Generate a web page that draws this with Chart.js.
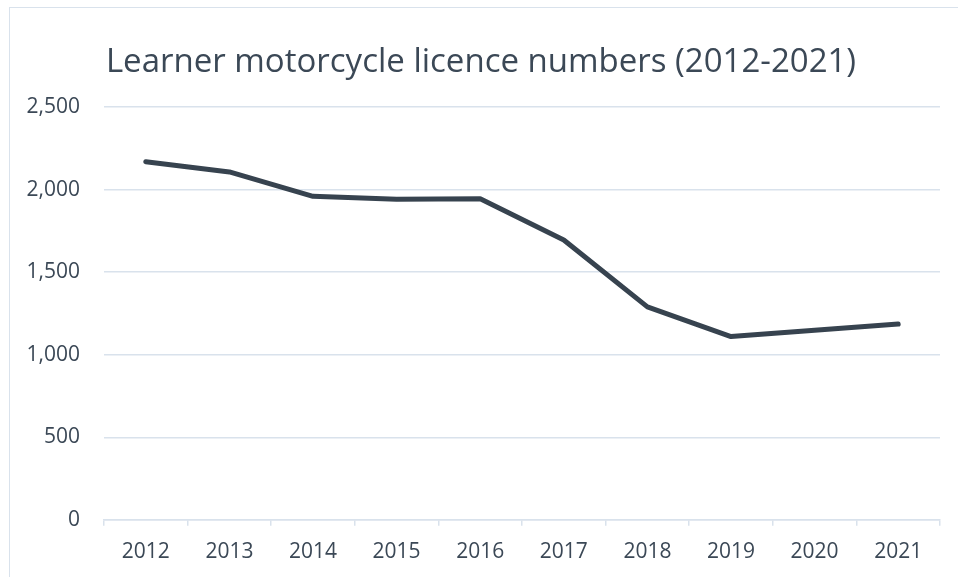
<!DOCTYPE html>
<html>
<head>
<meta charset="utf-8">
<script src="https://cdn.jsdelivr.net/npm/chart.js@4/dist/chart.umd.min.js"></script>
<style>
  html, body { margin: 0; padding: 0; background: #ffffff; overflow: hidden; }
  #wrap { position: relative; width: 958px; height: 577px; }
  #frame { position: absolute; left: 9px; top: 7px; width: 980px; height: 620px;
           border-left: 1.5px solid #d9e2ec; border-top: 1.5px solid #d9e2ec; }
  canvas { position: absolute; left: 0; top: 0; }
</style>
</head>
<body>
<div id="wrap">
  <div id="frame"></div>
  <canvas id="c" width="958" height="577"></canvas>
</div>
<script>
const categories = ["2012","2013","2014","2015","2016","2017","2018","2019","2020","2021"];
const licenceNumbers = [2170, 2108, 1960, 1942, 1945, 1695, 1290, 1110, 1148, 1186];
const yTickValues = [0, 500, 1000, 1500, 2000, 2500];
const chartTitle = "Learner motorcycle licence numbers (2012-2021)";

const textColor = "#3b4856";
const gridColor = "#d9e2ec";
const fontFamily = "'Open Sans', 'Noto Sans', sans-serif";

new Chart(document.getElementById("c"), {
  type: "line",
  data: {
    labels: categories,
    datasets: [{
      label: "Learner motorcycle licences",
      data: licenceNumbers,
      borderColor: "#37434f",
      backgroundColor: "#37434f",
      borderWidth: 5,
      pointRadius: 0,
      tension: 0,
      borderCapStyle: "round",
      borderJoinStyle: "round"
    }]
  },
  options: {
    responsive: false,
    animation: false,
    layout: { padding: { left: 22, right: 18, top: 0, bottom: -2 } },
    plugins: {
      legend: { display: false },
      tooltip: { enabled: false },
      title: {
        display: true,
        text: chartTitle,
        color: textColor,
        font: { family: fontFamily, size: 33, weight: "normal", lineHeight: 1.2 },
        padding: { top: 43, bottom: 24.6 }
      }
    },
    scales: {
      x: {
        offset: true,
        grid: {
          display: true,
          drawOnChartArea: false,
          drawTicks: true,
          tickLength: 6,
          offset: true,
          color: gridColor,
          lineWidth: 1.5
        },
        border: { display: true, color: gridColor, width: 1.5 },
        ticks: {
          color: textColor,
          padding: 14,
          maxRotation: 0,
          font: { family: fontFamily, size: 21, lineHeight: 1.2 }
        }
      },
      y: {
        min: 0,
        max: 2500,
        afterFit: (scale) => { scale.width = 82; },
        afterBuildTicks: (scale) => { scale.ticks = yTickValues.map(v => ({ value: v })); },
        grid: { color: gridColor, lineWidth: 1.5, drawTicks: false },
        border: { display: false },
        ticks: {
          color: textColor,
          padding: 24,
          font: { family: fontFamily, size: 21, lineHeight: 1.2 },
          callback: (v) => Number(v).toLocaleString("en-US")
        }
      }
    }
  }
});
</script>
</body>
</html>
